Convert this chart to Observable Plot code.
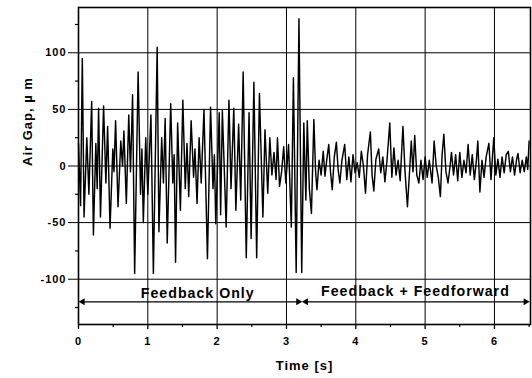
<!DOCTYPE html>
<html>
<head>
<meta charset="utf-8">
<script src="https://cdn.jsdelivr.net/npm/d3@7"></script>
<script src="https://cdn.jsdelivr.net/npm/@observablehq/plot@0.6"></script>
<style>
  html, body { margin: 0; padding: 0; background: #fff; }
</style>
</head>
<body>
<div id="chart"></div>
<script>
// ---- data ----
const timeS = [
  0.000, 0.030, 0.055, 0.080, 0.120, 0.150, 0.190, 0.215, 0.250, 0.270,
  0.290, 0.317, 0.362, 0.395, 0.420, 0.455, 0.495, 0.512, 0.535, 0.570,
  0.610, 0.635, 0.655, 0.690, 0.725, 0.750, 0.780, 0.810, 0.860, 0.895,
  0.915, 0.935, 0.970, 1.000, 1.045, 1.080, 1.135, 1.160, 1.200, 1.225,
  1.250, 1.280, 1.330, 1.360, 1.380, 1.400, 1.430, 1.470, 1.505, 1.540,
  1.565, 1.590, 1.625, 1.660, 1.680, 1.710, 1.740, 1.770, 1.810, 1.860,
  1.905, 1.940, 1.960, 1.980, 2.030, 2.050, 2.075, 2.130, 2.170, 2.200,
  2.240, 2.270, 2.310, 2.340, 2.375, 2.420, 2.460, 2.490, 2.530, 2.570,
  2.610, 2.660, 2.690, 2.730, 2.760, 2.790, 2.820, 2.850, 2.870, 2.900,
  2.930, 2.960, 2.990, 3.030, 3.070, 3.100, 3.140, 3.180, 3.220, 3.250,
  3.280, 3.300, 3.330, 3.360, 3.395, 3.420, 3.440, 3.470, 3.500, 3.530,
  3.555, 3.580, 3.610, 3.635, 3.660, 3.690, 3.720, 3.745, 3.770, 3.800,
  3.840, 3.870, 3.900, 3.930, 3.960, 3.990, 4.020, 4.050, 4.080, 4.110,
  4.140, 4.170, 4.210, 4.235, 4.260, 4.290, 4.330, 4.360, 4.390, 4.420,
  4.450, 4.490, 4.520, 4.550, 4.580, 4.610, 4.640, 4.680, 4.710, 4.745,
  4.780, 4.800, 4.825, 4.850, 4.880, 4.910, 4.940, 4.970, 5.000, 5.030,
  5.060, 5.100, 5.130, 5.160, 5.190, 5.220, 5.245, 5.270, 5.300, 5.330,
  5.360, 5.380, 5.410, 5.440, 5.470, 5.500, 5.530, 5.560, 5.590, 5.620,
  5.650, 5.680, 5.710, 5.740, 5.760, 5.790, 5.820, 5.850, 5.880, 5.920,
  5.950, 5.990, 6.020, 6.050, 6.080, 6.110, 6.140, 6.170, 6.200, 6.230,
  6.260, 6.290, 6.320, 6.340, 6.370, 6.400, 6.430, 6.460, 6.480, 6.500
];
const airGap = [
  20, -35, 95, -45, 25, -25, 57, -61, 20, -20,
  51, -45, 53, -15, 35, -55, 15, -5, 40, -36,
  22, 0, 31, -33, 45, -5, 63, -95, 83, -25,
  15, -50, 25, -25, 45, -95, 105, -58, 25, -15,
  42, -68, 55, -15, 10, -85, 38, -39, 58, -20,
  20, -27, 40, -10, 15, -33, 25, -15, 50, -82,
  52, -20, 10, -51, 47, -43, 49, -54, 58, -20,
  51, -39, 37, -30, 83, -81, 47, -64, 74, -81,
  64, -45, 32, -24, 25, -8, 12, -12, 25, -18,
  -5, 17, -15, 19, -54, 78, -94, 130, -94, 38,
  -30, 40, -20, -42, 41, -5, -21, 5, -8, 13,
  -9, 5, 19, -5, -21, 8, 21, -3, -15, 5,
  19, -12, 8, -14, 10, -6, 3, -10, 13, 0,
  -24, 10, 30, -8, -22, 6, 15, -6, 8, -14,
  5, 38, -10, 16, -8, 5, -13, 35, -5, -36,
  0, 22, -5, 27, -8, -15, 5, -12, 8, -10,
  5, -15, 22, 0, -10, -27, 10, 28, -5, -15,
  0, 12, -8, 10, -13, 12, -10, 5, -6, 19,
  -8, 10, -12, 5, 22, -23, 5, -10, 8, 20,
  -12, 25, -8, 6, -10, 8, -6, 10, 13, -5,
  8, -8, 6, 11, -6, 5, -5, 8, -3, 22
];

const xTicks = [0, 1, 2, 3, 4, 5, 6];
const xMinorTicks = [0.5, 1.5, 2.5, 3.5, 4.5, 5.5, 6.5];
const yTicks = [-100, -50, 0, 50, 100];
const yTickLabels = ["-100", "-50", "0", "50", "100"];
const yMinorTicks = [-125, -75, -25, 25, 75, 125];

const regionNames = ["Feedback Only", "Feedback + Feedforward"];
const regionLabelT = [1.72, 4.86];
const regionLabelV = [-112.5, -110.5];
const regionStartT = [0.06, 3.28];
const regionEndT = [3.17, 6.45];
const regionArrowV = [-120, -120];

const xTitle = ["Time [s]"];
const yTitle = ["Air Gap, µ m"];

const font = "'Liberation Sans', Arial, Helvetica, sans-serif";

const chart = Plot.plot({
  width: 532,
  height: 378,
  marginLeft: 78,
  marginRight: 2,
  marginTop: 7,
  marginBottom: 54,
  style: {fontFamily: font, fontSize: "11px", fontWeight: "bold", color: "#000", background: "#fff", letterSpacing: "1px"},
  x: {domain: [0, 6.52]},
  y: {domain: [-140, 140]},
  marks: [
    Plot.gridX(xTicks.slice(1), {stroke: "#000", strokeOpacity: 1, strokeWidth: 1}),
    Plot.gridY(yTicks, {stroke: "#000", strokeOpacity: 1, strokeWidth: 1}),
    Plot.axisX(xTicks, {tickSize: 5, tickPadding: 8, tickFormat: d => String(d), label: null, strokeWidth: 1.3}),
    Plot.axisX(xMinorTicks, {tickSize: 3, tickFormat: () => "", label: null, strokeWidth: 1.2}),
    Plot.axisY(yTicks, {tickSize: 10, tickPadding: 2, tickFormat: (d, i) => yTickLabels[i], label: null, strokeWidth: 1}),
    Plot.axisY(yMinorTicks, {tickSize: 3, tickFormat: () => "", label: null, strokeWidth: 1.2}),
    Plot.line(airGap, {x: timeS, y: airGap, stroke: "#000", strokeWidth: 1.45, strokeLinejoin: "round"}),
    Plot.link(regionNames, {
      x1: regionStartT, x2: regionEndT, y1: regionArrowV, y2: regionArrowV,
      stroke: "#000", strokeWidth: 1.4
    }),
    Plot.dot(regionNames, {x: regionStartT, y: regionArrowV, symbol: "triangle", rotate: -90, r: 2.6, fill: "#000", stroke: "none"}),
    Plot.dot(regionNames, {x: regionEndT, y: regionArrowV, symbol: "triangle", rotate: 90, r: 2.6, fill: "#000", stroke: "none"}),
    Plot.text(regionNames, {
      x: regionLabelT, y: regionLabelV, text: d => d,
      fontSize: 14.2, fontWeight: "bold", fill: "#000"
    }),
    Plot.text(xTitle, {frameAnchor: "bottom", dy: 45, text: d => d, fontSize: 13, fontWeight: "bold", fill: "#000"}),
    Plot.text(yTitle, {frameAnchor: "left", dx: -51, rotate: -90, text: d => d, fontSize: 13, fontWeight: "bold", fill: "#000"}),
    Plot.frame({stroke: "#000", strokeWidth: 1.6})
  ]
});
document.getElementById("chart").appendChild(chart);
</script>
</body>
</html>
